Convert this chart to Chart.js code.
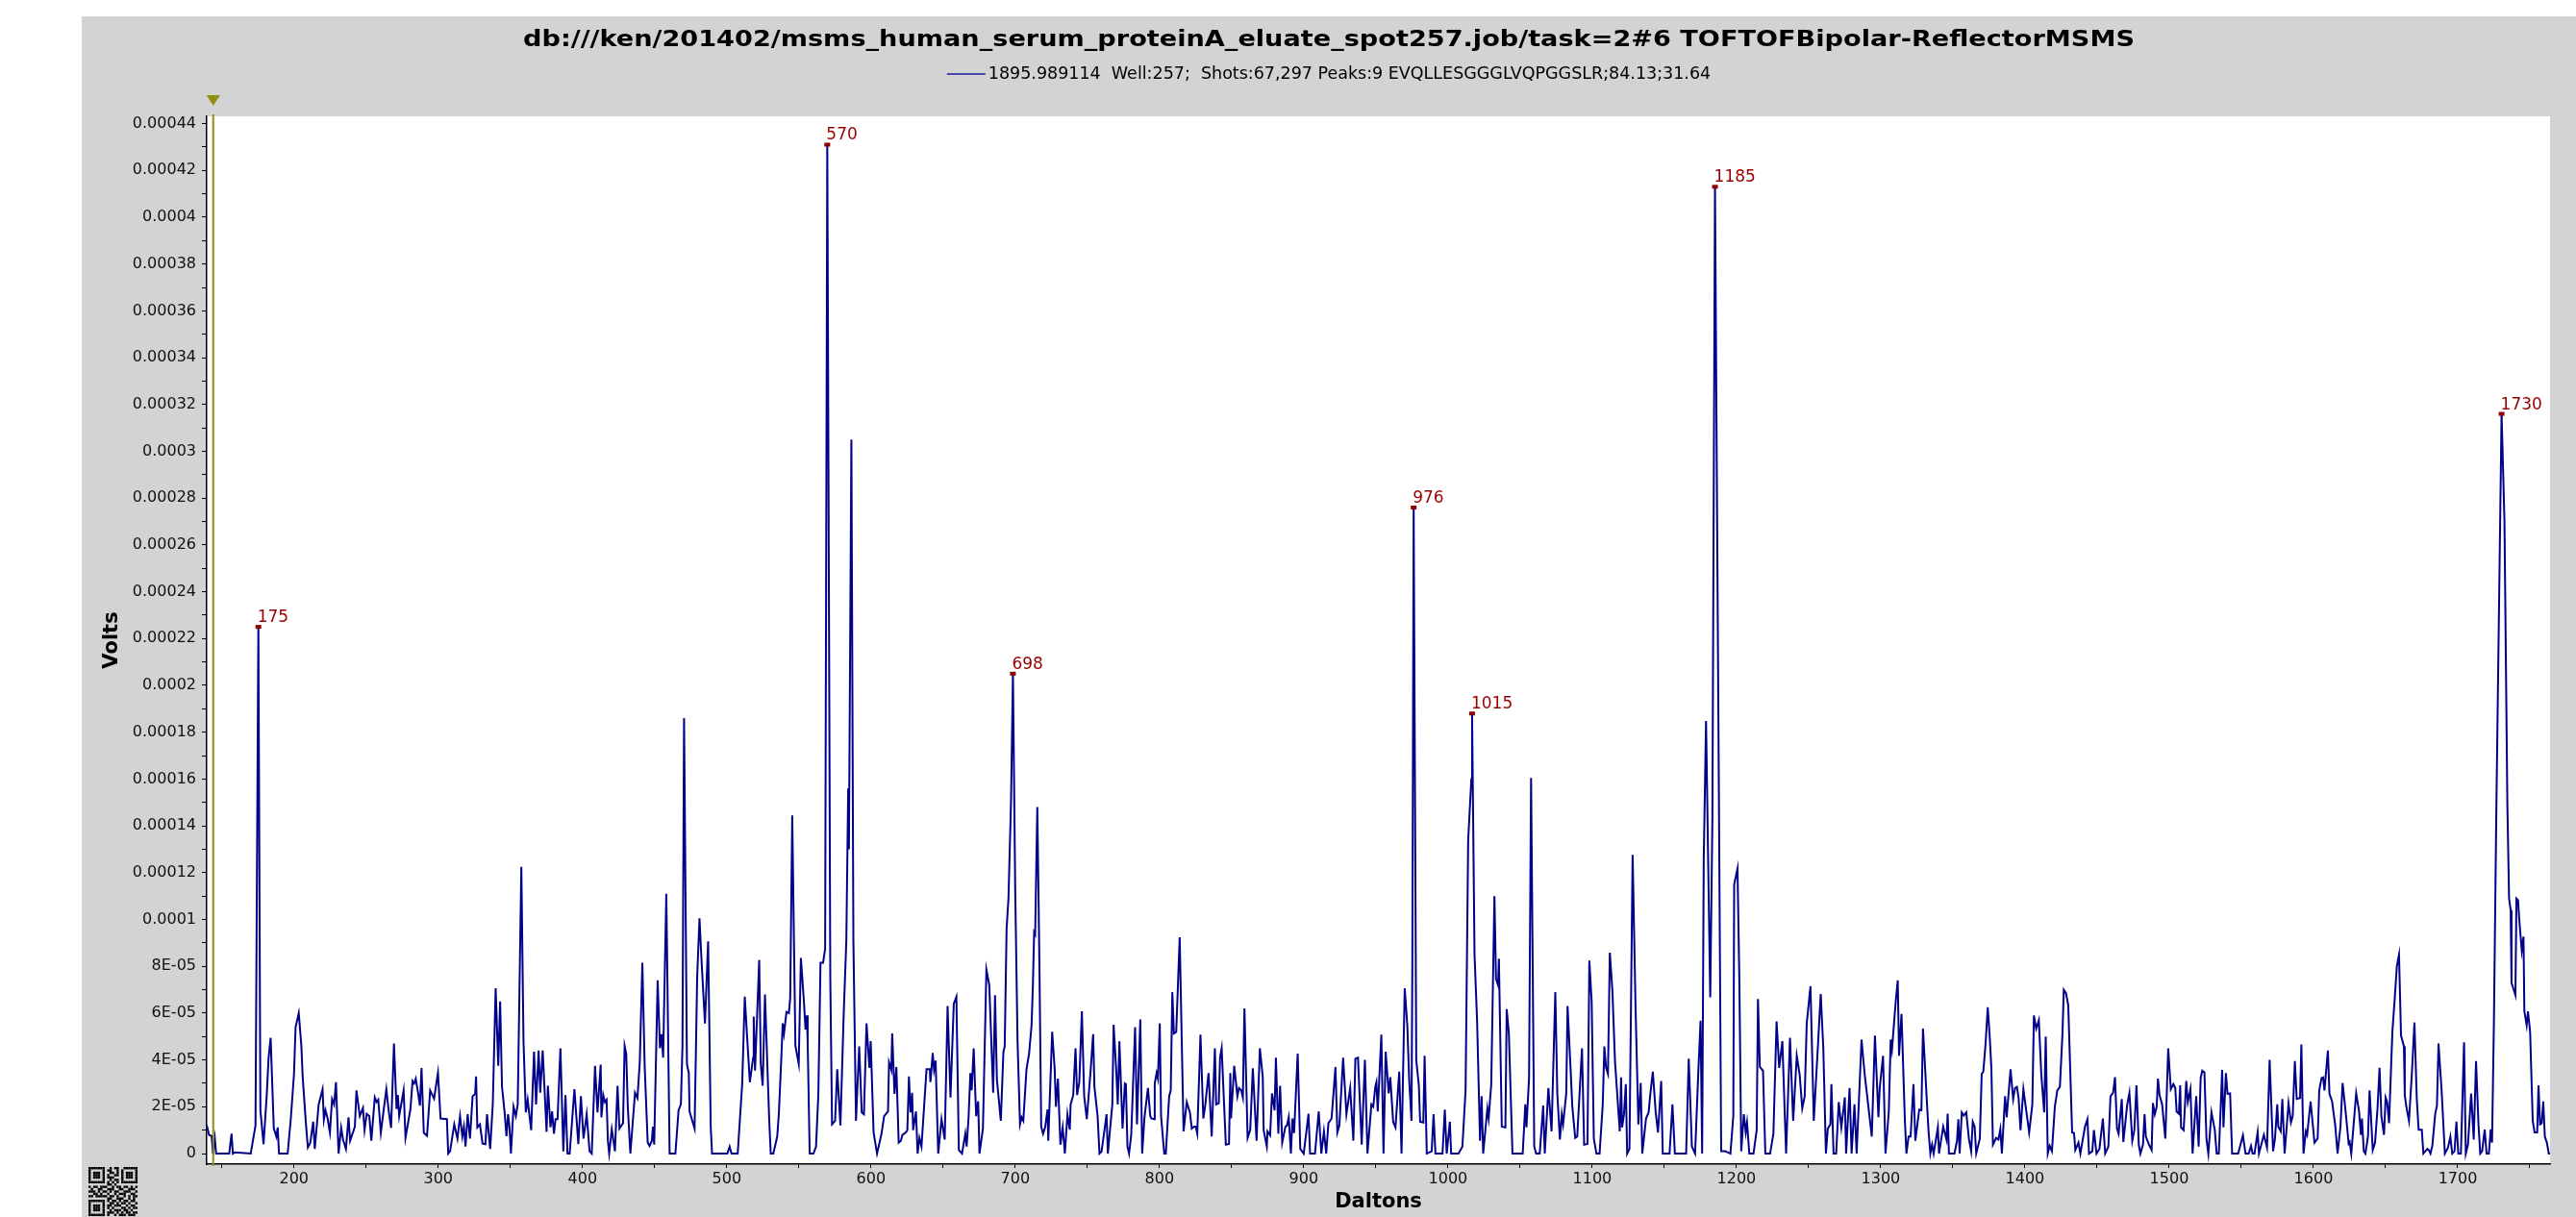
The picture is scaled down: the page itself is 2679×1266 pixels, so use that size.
<!DOCTYPE html>
<html>
<head>
<meta charset="utf-8">
<title>TOFTOF MSMS spot 257</title>
<script src="https://cdn.jsdelivr.net/npm/chart.js@4.4.1/dist/chart.umd.min.js"></script>
<style>
    html, body { margin: 0; padding: 0; background: #ffffff; }
    canvas { display: block; }
</style>
</head>
<body>
<canvas id="chart" width="2679" height="1266"></canvas>
<script>
const titleText = 'db:///ken/201402/msms_human_serum_proteinA_eluate_spot257.job/task=2#6 TOFTOFBipolar-ReflectorMSMS';
const legendText = '1895.989114  Well:257;  Shots:67,297 Peaks:9 EVQLLESGGGLVQPGGSLR;84.13;31.64';

// spectrum: mass in Da, intensity in units of 1E-05 V
const UNIT = 1e-5;
const masses = [
    139.5, 141.1, 142.9, 143.8, 145.1, 146, 155.1, 156.7, 157.6, 158.9, 170, 173.3, 175.3, 176.7, 178.9,
    181.1, 182.4, 183.8, 186, 187.8, 188.7, 189.6, 195.6, 197.8, 200, 201.1, 203.3, 205.1, 206, 208.2,
    209.6, 211.3, 213.3, 214.4, 217.1, 219.8, 220.7, 221.8, 223.3, 224.9, 226.4, 227.8, 229.1, 230.9, 232.7,
    234, 236, 237.8, 238.9, 242.2, 243.3, 245.6, 247.8, 248.9, 250.4, 252.2, 253.6, 256, 257.3, 258.4,
    260.2, 264, 265.6, 267.3, 269.3, 271.1, 272, 272.9, 276, 277.3, 280.7, 282.2, 283.3, 284.4, 286,
    287.3, 288.4, 290, 292.2, 294.4, 297.1, 299.8, 301.6, 306, 306.9, 308.2, 311.1, 313.3, 315.1, 316.7,
    317.8, 318.9, 320.4, 322, 323.8, 325.6, 326.2, 327.1, 328.9, 330.7, 332.7, 333.8, 336, 337.8, 339.8,
    341.6, 342.9, 344.2, 346, 347.3, 348.4, 349.3, 350.4, 352.2, 353.8, 355.1, 357.6, 359.1, 360.7, 362,
    364.4, 366.4, 367.8, 369.6, 370.7, 372.4, 375.1, 376, 377.8, 378.9, 380.2, 381.3, 382.7, 384.7, 386.7,
    388.2, 389.6, 391.1, 394.4, 397.1, 398.9, 400.7, 402.9, 404.9, 406.4, 408.7, 410.4, 412.6, 413.1, 414.4,
    415.6, 416.7, 417.6, 418.5, 420.3, 422.5, 424.3, 425.6, 428.1, 429.2, 430.3, 431.4, 433.2, 436.4, 438.1,
    439.7, 441.5, 443.1, 445.2, 446.5, 448.1, 448.8, 449.7, 452.1, 453.7, 454.8, 455.9, 458.1, 460.4, 464.4,
    466.6, 468.2, 469.3, 470.4, 472.4, 473.7, 474.2, 477.7, 479.5, 481.1, 482.6, 484.9, 487.1, 488.9, 489.8,
    500.4, 502, 503.3, 507.6, 510.7, 512.5, 514.3, 516, 518.3, 518.7, 519.6, 522.5, 523.6, 524.9, 526.5,
    529.4, 530.5, 532.3, 535, 536.1, 537.9, 538.8, 539.7, 541.4, 543.1, 544, 545.4, 547.6, 549.9, 551.4,
    553.5, 554.6, 555.5, 556.1, 557.5, 560.1, 561.9, 563.5, 565, 566.8, 568.2, 569.7, 571.8, 573, 575.1,
    576.6, 578.8, 581.1, 582.9, 584.2, 584.7, 586.4, 587.8, 589.6, 591.8, 593.6, 595.1, 596.9, 598.9, 599.8,
    601.8, 604.2, 607.3, 609.1, 611.8, 612.5, 614.1, 614.7, 616.3, 617.6, 619.2, 620.7, 621.8, 624.1, 625.2,
    626.3, 627.4, 628.5, 629.2, 631.2, 632.3, 633.6, 635, 638.5, 640.8, 641.2, 642.8, 643.7, 644.8, 646.6,
    648.9, 651.1, 653.1, 655.1, 657.4, 659.2, 660.9, 663.1, 665.4, 666.3, 667.6, 668.9, 669.8, 671.2, 672.9,
    674.3, 675.2, 677.6, 680, 682, 684.7, 686, 687.3, 690, 691.8, 692.7, 694, 695.3, 697.1, 698.4,
    700, 701.6, 703.3, 704.4, 705.6, 707.8, 709.6, 711.3, 712.2, 713.1, 713.8, 715.3, 716.7, 718, 719.3,
    720.7, 722.4, 722.9, 725.6, 727.3, 728.2, 729.6, 731.3, 732.9, 734.4, 736.2, 737.8, 738.4, 740.2, 741.8,
    742.9, 744.4, 746.2, 747.8, 749.6, 752.2, 754, 754.9, 757.1, 758.4, 759.8, 762.4, 763.3, 764.2, 767.3,
    768.2, 770, 771.1, 772.2, 774.4, 776, 776.7, 777.8, 778.9, 780.4, 783.1, 784.4, 786.7, 788, 789.6,
    792, 793.6, 794.4, 796.2, 796.7, 798, 798.9, 800.2, 801.1, 803.3, 804.4, 806.7, 807.8, 808.9, 810,
    811.6, 814, 816.7, 818.9, 821.1, 822.4, 824, 825.1, 826.2, 828.4, 830.4, 831.8, 834, 836.2, 838.4,
    839.3, 841.1, 842, 843.1, 846, 848.2, 849.1, 849.6, 851.8, 854, 855.1, 856.7, 857.8, 858.9, 861.1,
    862.9, 864.7, 867.3, 869.6, 871.6, 872.2, 874.4, 874.9, 876.7, 878, 879.8, 880.7, 882.4, 883.6, 885.1,
    887.3, 888.4, 889.6, 891.1, 892.2, 893.3, 895.8, 897.6, 900, 903.3, 904.4, 907.8, 910.4, 912.2, 914,
    915.6, 917.1, 919.3, 922, 923.3, 924.7, 927.3, 929.6, 932.2, 934.4, 935.8, 937.6, 940.2, 942.4, 944.2,
    946.9, 948.2, 949.6, 950.4, 951.3, 953.8, 955.3, 956.8, 958.9, 960, 962, 963.6, 966.2, 967.8, 970,
    971.8, 973.1, 974.7, 975.3, 976.2, 978, 979.8, 980.7, 982.9, 983.8, 985.3, 988.7, 990, 991.3, 996.2,
    997.8, 999.1, 1001.3, 1002.2, 1007.3, 1010, 1012.2, 1014, 1016.2, 1016.7, 1018.4, 1020.2, 1022.2, 1023.3, 1024.4,
    1027.3, 1028.2, 1030, 1032.2, 1033.3, 1034.7, 1035.3, 1037.3, 1039.8, 1040.7, 1042.2, 1044.7, 1051.8, 1053.6, 1054.4,
    1056.2, 1057.6, 1059.8, 1061.1, 1063.6, 1066, 1067.1, 1069.6, 1071.8, 1074.4, 1075.8, 1077.6, 1078.9, 1079.8, 1082,
    1082.9, 1084.7, 1086.2, 1088.2, 1089.6, 1092.9, 1094.4, 1096.7, 1098, 1099.6, 1101.1, 1102.9, 1105.1, 1107.3, 1108.4,
    1109.6, 1110.9, 1112.2, 1114, 1115.8, 1119.1, 1120, 1120.7, 1122, 1123.3, 1124.2, 1125.8, 1128, 1130, 1132,
    1133.6, 1134.7, 1137.3, 1139.1, 1140.2, 1142, 1144, 1145.6, 1146.4, 1147.8, 1148.9, 1153.6, 1155.6, 1157.3, 1165.1,
    1166.9, 1169.1, 1171.3, 1173.6, 1175.1, 1176.2, 1177.3, 1178.9, 1181.8, 1183.3, 1185.1, 1189.4, 1192.2, 1195.8, 1197.8,
    1198.4, 1200.7, 1202, 1203.3, 1205.1, 1206.4, 1207.3, 1208.9, 1211.8, 1214, 1214.9, 1216.2, 1218.4, 1220, 1223.3,
    1225.6, 1227.8, 1229.6, 1231.8, 1234.4, 1237.1, 1239.3, 1241.8, 1243.8, 1245.6, 1247.3, 1248.7, 1251.3, 1253.6, 1256.7,
    1258.4, 1260.2, 1262, 1263.3, 1265.1, 1265.8, 1267.3, 1269.1, 1270.9, 1272.7, 1275.1, 1276, 1278.4, 1279.8, 1281.8,
    1283.3, 1286.7, 1288.2, 1289.1, 1290.4, 1293.8, 1296, 1298.4, 1299.3, 1301.6, 1303.3, 1305.6, 1306.9, 1307.8, 1310.4,
    1311.8, 1312.7, 1314.4, 1316.7, 1317.8, 1319.3, 1320.7, 1322.7, 1324, 1326.7, 1328.2, 1329.3, 1331.8, 1333.1, 1334.4,
    1335.6, 1336.7, 1339.6, 1340.4, 1343.3, 1345.6, 1346.4, 1347.3, 1351.1, 1352.9, 1353.8, 1354.7, 1356.2, 1357.6, 1359.3,
    1361.1, 1362.7, 1363.8, 1365.1, 1366.2, 1368.7, 1370, 1371.1, 1372.7, 1374.2, 1375.6, 1376.7, 1377.8, 1380, 1381.6,
    1382.9, 1384, 1386.2, 1387.3, 1390, 1391.8, 1393.1, 1394.4, 1395.6, 1396.9, 1398.9, 1402.9, 1405.1, 1406.2, 1407.8,
    1409.6, 1411.3, 1413.3, 1414.4, 1415.8, 1417.1, 1418.7, 1420.7, 1422.4, 1424.2, 1426, 1426.9, 1428.4, 1430, 1432.7,
    1434, 1434.9, 1437.1, 1438.4, 1441.6, 1443.3, 1444.4, 1446.7, 1447.8, 1449.6, 1451.6, 1454, 1455.6, 1457.8, 1459.3,
    1461.1, 1462.4, 1463.8, 1464.9, 1467.1, 1468.2, 1470.9, 1472.4, 1474.4, 1475.8, 1477.3, 1478.9, 1480, 1481.8, 1482.9,
    1483.8, 1486, 1487.8, 1488.7, 1490, 1491.3, 1492.2, 1493.3, 1495.1, 1497.3, 1499.3, 1501.1, 1502.9, 1504.2, 1505.1,
    1506.7, 1507.6, 1508.2, 1510, 1511.8, 1512.9, 1514.7, 1516.2, 1518.7, 1520.4, 1521.8, 1522.9, 1524.4, 1525.8, 1527.1,
    1529.3, 1531.6, 1532.9, 1534.4, 1536.7, 1537.6, 1539.3, 1540.4, 1542.2, 1543.6, 1547.8, 1551.1, 1552.9, 1555.1, 1556.7,
    1557.8, 1559.1, 1561.3, 1562.2, 1565.6, 1567.8, 1569.6, 1572, 1573.3, 1574.9, 1575.6, 1577.3, 1578.4, 1580, 1582.7,
    1584.4, 1585.6, 1587.1, 1588.4, 1590.7, 1591.6, 1593.1, 1594.7, 1595.6, 1598, 1600.7, 1602.9, 1604, 1605.6, 1606.7,
    1607.6, 1610, 1611.1, 1612.9, 1615.1, 1616.7, 1618.7, 1620.2, 1622.2, 1624.4, 1625.1, 1626.2, 1629.6, 1631.6, 1632.9,
    1633.6, 1634.9, 1636, 1637.8, 1638.9, 1641.1, 1642.7, 1644.4, 1645.8, 1647.1, 1648.9, 1650, 1651.1, 1652.4, 1654.7,
    1656.4, 1657.8, 1659.3, 1660.7, 1662.7, 1663.3, 1664.4, 1666.2, 1668.2, 1670, 1671.6, 1672.9, 1675.1, 1676.2, 1678.9,
    1680, 1681.1, 1682.4, 1684.4, 1685.6, 1686.7, 1688.9, 1691.1, 1693.3, 1694.9, 1696.2, 1697.8, 1699.1, 1700.4, 1702.2,
    1704.4, 1705.6, 1707.1, 1709.3, 1711.1, 1712.7, 1714.4, 1715.6, 1716.9, 1718.7, 1720, 1721.6, 1722.9, 1723.8, 1725.1,
    1726.7, 1730.4, 1732.4, 1734.4, 1735.6, 1736.7, 1737.3, 1740, 1740.7, 1741.8, 1742.7, 1744.4, 1745.6, 1746.2, 1747.8,
    1748.7, 1750.2, 1752, 1753.3, 1755.1, 1756, 1757.1, 1758.2, 1759.3, 1760.4, 1761.8, 1763.1, 1764.4
];
const voltsE5 = [
    1.2, 0.8, 0.75, 0, 0.65, 0, 0, 0.85, 0, 0.05, 0, 1.2, 22.5, 1.85, 0.4,
    2.5, 4.1, 4.95, 1.07, 0.73, 1.12, 0, 0, 1.5, 3.4, 5.4, 6.0, 4.6, 3.3, 1.33,
    0.26, 0.47, 1.36, 0.2, 2.1, 2.75, 1.45, 1.85, 1.5, 0.9, 2.33, 2.1, 3.05, 0, 1.1,
    0.6, 0.2, 1.55, 0.55, 1.15, 2.7, 1.6, 1.95, 1.0, 1.7, 1.6, 0.55, 2.4, 2.2, 2.3,
    0.9, 2.75, 1.85, 1.1, 4.7, 1.9, 2.5, 1.6, 2.7, 0.67, 1.9, 3.1, 3.0, 3.2, 2.6,
    2.05, 3.65, 0.88, 0.76, 2.7, 2.35, 3.45, 1.5, 1.47, 0, 0.1, 1.25, 0.64, 1.6, 0.73,
    1.15, 0.3, 1.68, 0.64, 2.45, 2.55, 3.3, 1.12, 1.25, 0.43, 0.4, 1.68, 0.2, 2.1, 7.06,
    3.75, 6.5, 2.85, 1.76, 0.74, 1.68, 1.2, 0, 2.0, 1.6, 2.1, 12.25, 4.8, 1.76, 2.3,
    1.0, 4.35, 2.1, 4.4, 2.6, 4.4, 0.93, 2.9, 1.12, 1.8, 0.85, 1.47, 1.47, 4.5, 0.1,
    2.5, 0, 0, 2.75, 0.4, 2.45, 0.64, 1.68, 0.1, 0, 3.75, 1.76, 3.8, 1.55, 2.5,
    2.2, 2.3, 0.55, 0, 1.04, 0.1, 2.9, 1.07, 1.3, 4.6, 4.27, 2.0, 0, 2.6, 2.37,
    3.9, 8.15, 3.75, 0.47, 0.33, 0.55, 1.15, 0.38, 7.4, 4.5, 5.1, 4.1, 11.1, 0, 0,
    1.85, 2.1, 4.6, 18.6, 3.83, 3.44, 1.8, 1.07, 7.55, 10.05, 8.15, 5.56, 9.07, 1.15, 0,
    0, 0.3, 0, 0, 2.97, 6.7, 4.8, 3.05, 4.1, 5.85, 3.54, 8.27, 3.83, 2.9, 6.8,
    1.5, 0, 0, 0.73, 1.68, 4.18, 5.56, 5.13, 6.05, 6.0, 6.65, 14.45, 4.6, 3.83, 8.36,
    6.5, 5.3, 5.9, 4.8, 0, 0, 0.3, 2.55, 8.15, 8.15, 8.75, 43.1, 7.4, 1.25, 1.4,
    3.6, 1.2, 6.0, 9.1, 15.6, 13.0, 30.5, 9.1, 1.4, 4.58, 1.76, 1.68, 5.56, 3.66, 4.8,
    0.9, 0, 0.85, 1.6, 1.8, 3.9, 3.57, 5.13, 2.55, 3.7, 0.47, 0.55, 0.8, 0.9, 1.0,
    3.3, 1.76, 2.6, 1.0, 1.8, 0, 0.67, 0.3, 3.6, 3.6, 3.05, 4.3, 3.57, 3.97, 0,
    1.47, 0.6, 6.3, 2.4, 6.4, 6.7, 0.15, 0, 0.85, 0.3, 1.5, 3.44, 2.7, 4.5, 1.6,
    2.23, 0, 1.07, 7.86, 7.2, 2.6, 6.77, 3.15, 1.4, 4.35, 4.58, 9.6, 10.9, 15.1, 20.5,
    11.2, 4.8, 1.25, 1.55, 1.4, 3.6, 4.27, 5.48, 7.1, 9.45, 9.36, 14.8, 8.4, 1.15, 0.85,
    1.12, 1.88, 0.55, 5.2, 3.66, 2.0, 3.2, 0.38, 1.12, 0, 1.68, 1.02, 2.1, 2.5, 4.5,
    2.5, 3.05, 6.08, 2.45, 1.47, 3.5, 5.1, 2.85, 1.6, 0, 0.08, 1.25, 1.68, 0, 2.1,
    5.5, 3.57, 2.1, 4.8, 1.07, 3.0, 2.97, 0.3, 0, 0.8, 5.4, 1.25, 5.73, 0, 1.55,
    2.8, 1.6, 1.5, 1.47, 3.0, 3.44, 3.2, 5.56, 1.6, 0, 0, 2.45, 2.7, 6.9, 5.13,
    5.2, 9.24, 0.95, 2.2, 1.76, 1.07, 1.15, 1.15, 0.85, 5.08, 1.5, 2.1, 3.44, 0.73, 4.5,
    2.1, 2.15, 4.1, 4.5, 0.38, 0.41, 3.44, 1.5, 3.75, 2.45, 2.8, 2.7, 2.4, 6.2, 0.67,
    1.02, 3.64, 0.55, 4.5, 3.26, 1.0, 0.3, 0.95, 0.78, 2.57, 1.85, 4.1, 0.85, 2.9, 0.47,
    1.15, 1.2, 1.55, 0, 1.5, 0.88, 4.27, 0.2, 0, 1.7, 0, 0, 1.8, 0, 0.95,
    0, 1.3, 1.5, 3.7, 0.9, 1.2, 4.1, 1.68, 2.8, 0.55, 4.05, 4.1, 0.38, 4.0, 0,
    2.1, 2.0, 2.85, 3.05, 1.8, 5.08, 0, 4.35, 2.57, 3.26, 1.35, 1.12, 3.5, 0, 7.06,
    5.48, 3.15, 1.4, 8.24, 27.6, 4.0, 2.9, 1.36, 1.33, 4.18, 0, 0.1, 1.68, 0, 0,
    1.88, 0, 1.36, 0, 0, 0.3, 2.7, 13.4, 16.0, 18.8, 8.5, 5.65, 0.55, 2.45, 0,
    1.93, 1.5, 2.97, 11.0, 7.46, 7.2, 8.33, 1.15, 1.12, 6.17, 5.13, 0, 0, 2.1, 1.12,
    3.23, 16.05, 0.3, 0, 0, 2.05, 0, 2.8, 0.95, 6.9, 2.55, 0.6, 1.68, 1.25, 2.57,
    6.3, 4.0, 2.0, 0.67, 0.73, 4.5, 0.38, 0.41, 8.24, 6.5, 0.64, 0, 0, 2.1, 4.58,
    3.66, 3.4, 8.58, 6.94, 3.92, 0.95, 3.26, 1.12, 1.68, 2.97, 0, 0.2, 12.76, 6.34, 1.25,
    3.02, 0, 1.5, 1.76, 2.5, 3.5, 1.76, 0.9, 1.68, 3.1, 0, 0, 2.1, 0, 0,
    4.06, 0.3, 0, 3.57, 5.68, 0, 12.55, 18.48, 6.68, 14.3, 41.3, 0.1, 0.1, 0, 1.6,
    11.5, 12.18, 7.4, 0.1, 1.68, 0.9, 1.33, 0, 0, 1.0, 6.6, 3.7, 3.54, 0, 0,
    0.85, 5.65, 3.66, 4.8, 0, 4.95, 1.4, 4.18, 3.37, 1.93, 2.45, 5.56, 7.15, 1.4, 4.87,
    6.82, 4.5, 0, 1.07, 1.25, 2.97, 0, 0, 2.2, 1.12, 2.4, 0, 2.8, 0, 2.1,
    0, 4.87, 3.83, 3.26, 2.57, 0.73, 5.04, 1.55, 2.8, 4.18, 0, 1.8, 4.87, 4.44, 6.5,
    7.4, 4.18, 5.96, 1.5, 0, 0.73, 0.73, 2.97, 0.55, 1.88, 1.85, 5.34, 2.45, 1.0, 0,
    0.38, 0, 1.12, 0, 1.15, 0.6, 1.7, 0, 0, 0.55, 1.47, 0, 1.76, 1.62, 1.76,
    0.64, 0.1, 1.36, 1.15, 0, 0.64, 3.4, 3.5, 4.7, 6.25, 4.95, 3.66, 0.38, 0.67, 0.6,
    1.04, 0, 2.45, 1.55, 3.6, 2.33, 2.8, 2.85, 2.37, 1.0, 2.75, 0.9, 2.1, 5.9, 5.34,
    5.7, 3.4, 1.76, 5.0, 0, 0.33, 0.1, 2.0, 2.7, 2.85, 5.13, 7.0, 6.86, 6.34, 0.9,
    0.88, 0.15, 0.47, 0, 1.15, 1.47, 0, 0.1, 1.0, 0, 0.2, 1.5, 0, 0.3, 2.45,
    2.6, 3.26, 1.07, 0.85, 2.33, 0.5, 2.1, 2.6, 0.55, 1.0, 2.92, 0.38, 0, 0.38, 1.68,
    0.73, 0.38, 0.15, 2.16, 1.68, 2.0, 3.2, 2.5, 2.1, 0.64, 4.5, 2.75, 2.97, 2.8, 1.8,
    1.7, 2.92, 1.12, 1.0, 3.1, 2.2, 2.75, 0, 2.45, 0.3, 3.23, 3.54, 3.47, 0.64, 0,
    1.76, 1.0, 0, 0, 3.57, 1.12, 3.44, 2.55, 2.57, 0, 0, 0.78, 0, 0, 0.33,
    0, 0, 0.92, 0, 0.8, 0.26, 4.0, 0.1, 0.64, 2.1, 1.15, 0.95, 2.33, 0, 2.15,
    1.33, 1.6, 3.95, 2.33, 2.37, 4.66, 0, 0.95, 0.8, 2.23, 0.47, 0.64, 2.7, 3.23, 3.26,
    2.7, 4.4, 2.55, 2.23, 1.2, 0, 1.15, 3.02, 1.85, 0.43, 0.5, 0, 2.57, 1.8, 0.8,
    1.5, 0.1, 0, 0.73, 2.7, 0.15, 0.47, 1.93, 3.66, 1.6, 0.8, 2.4, 2.2, 1.3, 5.2,
    6.68, 8.0, 8.5, 5.04, 4.58, 2.5, 2.0, 1.4, 3.4, 5.6, 2.37, 1.02, 1.02, 0, 0.2,
    0.15, 0, 0.33, 1.7, 2.05, 4.7, 2.62, 0, 0.26, 0.73, 0, 0.1, 1.36, 0, 0,
    4.75, 0, 0.38, 2.57, 0.6, 3.95, 1.25, 0, 0.1, 1.02, 0, 0, 1.04, 0.47, 5.65,
    14.3, 31.6, 27.0, 15.0, 10.9, 10.4, 7.3, 6.77, 10.9, 10.83, 9.97, 8.67, 9.27, 6.08, 5.48,
    6.08, 5.2, 1.4, 0.9, 0.9, 2.92, 1.25, 1.3, 2.23, 0.73, 0.47, 0, 0
];

const peakLabels = [175, 570, 698, 976, 1015, 1185, 1730];
const precursorMark = 144;

const xRange = [139.5, 1764];
const xMajor = [200, 300, 400, 500, 600, 700, 800, 900, 1000, 1100, 1200, 1300, 1400, 1500, 1600, 1700];
const yRangeE5 = [-0.45, 44.31];
const yMajorE5 = [0, 2, 4, 6, 8, 10, 12, 14, 16, 18, 20, 22, 24, 26, 28, 30, 32, 34, 36, 38, 40, 42, 44];
const yLabels = ['0', '2E-05', '4E-05', '6E-05', '8E-05', '0.0001', '0.00012', '0.00014', '0.00016', '0.00018',
    '0.0002', '0.00022', '0.00024', '0.00026', '0.00028', '0.0003', '0.00032', '0.00034', '0.00036', '0.00038',
    '0.0004', '0.00042', '0.00044'];

// fixed pattern for the little code square bottom left
const qrRows = [
    '111111100101100111111', '100000101100101000001', '101110100110101011101', '101110101001101011101',
    '101110101110001011101', '100000100101101000001', '111111101010101111111', '000000001101000000000',
    '101101110010110110101', '010011001110011001110', '111010110101100111001', '001101001001011100110',
    '110111110110100101011', '000000001100111001010', '111111101011010110110', '100000100110101101001',
    '101110101101110010110', '101110101010001101011', '101110100101110110100', '100000101110101011011',
    '111111101001011101110'
];

const FONT = "'DejaVu Sans', sans-serif";

let points = masses.map(function (m, i) {
    return {x: m, y: voltsE5[i] * UNIT};
});

const decor = {
    id: 'decor',
    beforeDraw: function (chart) {
        const ctx = chart.ctx;
        const a = chart.chartArea;
        ctx.save();
        ctx.fillStyle = '#ffffff';
        ctx.fillRect(0, 0, chart.width, chart.height);
        ctx.fillStyle = '#d3d3d3';
        ctx.fillRect(85, 17, chart.width - 85, chart.height - 17);
        ctx.fillStyle = '#ffffff';
        ctx.fillRect(a.left, a.top, a.right - a.left, a.bottom - a.top);
        ctx.restore();
    },
    afterDraw: function (chart) {
        const ctx = chart.ctx;
        const a = chart.chartArea;
        const sx = chart.scales.x;
        const sy = chart.scales.y;
        const mid = (85 + chart.width) / 2;
        ctx.save();

        // precursor marker
        let px = sx.getPixelForValue(precursorMark);
        ctx.strokeStyle = '#8f8f10';
        ctx.lineWidth = 2;
        ctx.beginPath();
        ctx.moveTo(px, a.top - 2);
        ctx.lineTo(px, a.bottom + 2);
        ctx.stroke();
        ctx.fillStyle = '#8f8f10';
        ctx.beginPath();
        ctx.moveTo(px - 7, a.top - 22);
        ctx.lineTo(px + 7, a.top - 22);
        ctx.lineTo(px, a.top - 11);
        ctx.closePath();
        ctx.fill();

        // peak labels
        ctx.font = '17px ' + FONT;
        ctx.textAlign = 'left';
        ctx.textBaseline = 'alphabetic';
        peakLabels.forEach(function (mz) {
            let best = -1;
            masses.forEach(function (m, i) {
                if (Math.abs(m - mz) <= 4 && (best < 0 || voltsE5[i] > voltsE5[best])) best = i;
            });
            let x = sx.getPixelForValue(masses[best]);
            let y = sy.getPixelForValue(voltsE5[best] * UNIT);
            ctx.fillStyle = '#8b0000';
            ctx.fillRect(x - 3, y - 2, 6, 4);
            ctx.fillStyle = '#990000';
            ctx.fillText(String(mz), x - 1, y - 5);
        });

        // title
        ctx.fillStyle = '#000000';
        ctx.font = 'bold 23px ' + FONT;
        ctx.textAlign = 'center';
        ctx.save();
        ctx.translate(mid, 48);
        ctx.scale(1.18, 1);
        ctx.fillText(titleText, 0, 0);
        ctx.restore();

        // legend
        ctx.font = '17.5px ' + FONT;
        ctx.textAlign = 'left';
        ctx.textBaseline = 'middle';
        let tw = ctx.measureText(legendText).width;
        let lx = mid - (tw + 43) / 2;
        ctx.strokeStyle = '#4848b0';
        ctx.lineWidth = 2;
        ctx.beginPath();
        ctx.moveTo(lx, 77);
        ctx.lineTo(lx + 40, 77);
        ctx.stroke();
        ctx.fillStyle = '#000000';
        ctx.fillText(legendText, lx + 43, 77);

        // code square
        ctx.fillStyle = '#000000';
        const cell = 2.43;
        qrRows.forEach(function (row, r) {
            for (let c = 0; c < row.length; c++) {
                if (row[c] === '1') ctx.fillRect(92 + c * cell, 1214 + r * cell, cell, cell);
            }
        });
        ctx.restore();
    }
};

const ctx = document.getElementById('chart').getContext('2d');
const myChart = new Chart(ctx, {
    type: 'line',
    data: {
        datasets: [{
            label: legendText,
            data: points,
            borderColor: '#00008b',
            borderWidth: 2,
            pointRadius: 0,
            tension: 0,
            fill: false
        }]
    },
    options: {
        responsive: false,
        animation: false,
        devicePixelRatio: 1,
        layout: {padding: {left: 85, top: 121, right: 27, bottom: 0}},
        plugins: {
            legend: {display: false},
            title: {display: false},
            tooltip: {enabled: false}
        },
        scales: {
            x: {
                type: 'linear',
                min: xRange[0],
                max: xRange[1],
                afterBuildTicks: function (scale) {
                    let ticks = [{value: xMajor[0] - 50}];
                    xMajor.forEach(function (v) {
                        ticks.push({value: v});
                        ticks.push({value: v + 50});
                    });
                    scale.ticks = ticks;
                },
                afterFit: function (scale) {
                    scale.height = 55;
                },
                ticks: {
                    autoSkip: false,
                    maxRotation: 0,
                    padding: 2,
                    color: '#111111',
                    font: {family: FONT, size: 16},
                    callback: function (value) {
                        return xMajor.indexOf(value) >= 0 ? String(value) : '';
                    }
                },
                grid: {drawOnChartArea: false, drawTicks: true, tickLength: 4, color: '#000000'},
                border: {display: true, color: '#000000', width: 1.5},
                title: {
                    display: true,
                    text: 'Daltons',
                    color: '#000000',
                    font: {family: FONT, size: 21, weight: 'bold'},
                    padding: {top: 0, bottom: 3}
                }
            },
            y: {
                type: 'linear',
                min: yRangeE5[0] * UNIT,
                max: yRangeE5[1] * UNIT,
                afterBuildTicks: function (scale) {
                    let ticks = [];
                    yMajorE5.forEach(function (v, i) {
                        ticks.push({value: v * UNIT});
                        if (i < yMajorE5.length - 1) ticks.push({value: (v + 1) * UNIT});
                    });
                    scale.ticks = ticks;
                },
                afterFit: function (scale) {
                    scale.width = 130;
                },
                ticks: {
                    autoSkip: false,
                    padding: 6,
                    color: '#111111',
                    font: {family: FONT, size: 16},
                    callback: function (value) {
                        let i = yMajorE5.indexOf(Math.round(value / UNIT));
                        return i >= 0 ? yLabels[i] : '';
                    }
                },
                grid: {drawOnChartArea: false, drawTicks: true, tickLength: 5, color: '#000000'},
                border: {display: true, color: '#000000', width: 1.5},
                title: {
                    display: true,
                    text: 'Volts',
                    color: '#000000',
                    font: {family: FONT, size: 21, weight: 'bold'},
                    padding: {top: 19, bottom: 0}
                }
            }
        }
    },
    plugins: [decor]
});
</script>
</body>
</html>
